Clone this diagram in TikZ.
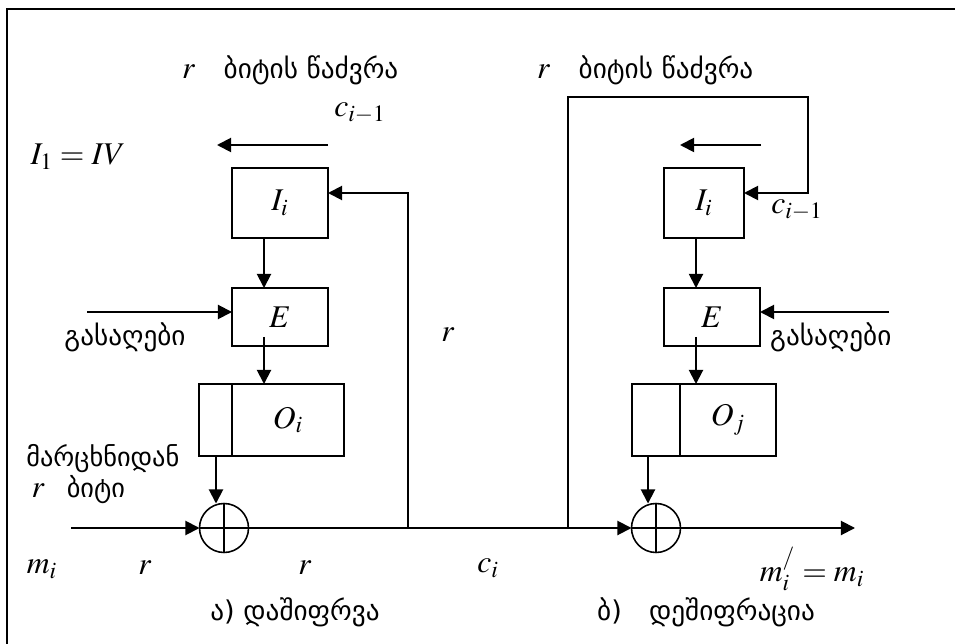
\documentclass[tikz,border=0pt]{standalone}
\usepackage{mathptmx}
\usepackage{fontspec}
\setmainfont{Liberation Serif}
\newfontfamily\geo{DejaVu Sans}
\usetikzlibrary{arrows.meta,positioning}

\begin{document}
\begin{tikzpicture}[
  x=0.02cm, y=-0.02cm,
  font=\fontsize{18}{21}\selectfont,
  blk/.style={draw, line width=0.9pt, outer sep=0pt, inner sep=0pt},
  xor/.style={draw, circle, line width=0.9pt, minimum size=0.98cm, inner sep=0pt, outer sep=0pt,
    path picture={\draw[line width=0.9pt]
      (path picture bounding box.north) -- (path picture bounding box.south)
      (path picture bounding box.west) -- (path picture bounding box.east);}},
  arr/.style={line width=1.1pt, -{Triangle[length=8pt,width=8pt]}},
  geotxt/.style={font=\geo\fontsize{15.5}{19}\selectfont}
]
\useasboundingbox (0,0) rectangle (955,644);

% frame
\draw[line width=1.6pt] (7,644) -- (7,9) -- (955,9);

% encryption (left)
\node[blk, minimum width=1.92cm, minimum height=1.4cm] (Il) at (280,203) {$I_i$};
\node[blk, minimum width=1.92cm, minimum height=1.16cm] (El) at (280,317) {$E$};
\node[blk, minimum width=0.66cm, minimum height=1.44cm] (Osl) at (215.5,420) {};
\node[blk, right=0pt of Osl, minimum width=2.24cm, minimum height=1.44cm] (Obl) {$O_i$};
\node[xor] (xorl) at (224,528) {};

% decryption (right)
\node[blk, minimum width=1.6cm, minimum height=1.4cm] (Ir) at (704,203) {$I_i$};
\node[blk, minimum width=1.92cm, minimum height=1.16cm] (Er) at (712,317) {$E$};
\node[blk, minimum width=0.96cm, minimum height=1.44cm] (Osr) at (656,420) {};
\node[blk, right=0pt of Osr, minimum width=1.92cm, minimum height=1.44cm] (Obr) {$O_j$};
\node[xor] (xorr) at (656,528) {};

% helper points
\coordinate (al) at (264,0);
\coordinate (ar) at (696,0);
\coordinate (eol) at (264,337);
\coordinate (eor) at (696,337);
\coordinate (kl) at (87,312);
\coordinate (kr) at (889,312);
\coordinate (mi) at (71,528);
\coordinate (jl) at (408,528);
\coordinate (jr) at (568,528);
\coordinate (tr) at (808,97);
\coordinate (out) at (855,528);
\coordinate (shl) at (328,145);
\coordinate (shle) at (217,145);
\coordinate (shr) at (761,145);
\coordinate (shre) at (680,145);
\coordinate (pl) at (216,0);
\coordinate (pr) at (648,0);

% connectors left
\draw[arr] (al |- Il.south) -- (al |- El.north);
\draw[arr] (eol) -- (eol |- Obl.north);
\draw[arr] (kl) -- (kl -| El.west);
\draw[arr] (pl |- Osl.south) -- (pl |- xorl.north);
\draw[arr] (mi) -- (xorl.west);
\draw[arr] (jl) |- ([yshift=0.2cm]Il.east);
\draw[arr] (shl) -- (shle);

% connectors right
\draw[arr] (ar |- Ir.south) -- (ar |- Er.north);
\draw[arr] (eor) -- (eor |- Obr.north);
\draw[arr] (kr) -- (kr -| Er.east);
\draw[arr] (pr |- Osr.south) -- (pr |- xorr.north);
\draw[arr] (xorl.east) -- (xorr.west);
\draw[arr] (xorr.east) -- (out);
\draw[arr] (jr) |- (tr) |- ([yshift=0.2cm]Ir.east);
\draw[arr] (shr) -- (shre);

% labels
\node[anchor=west] (shtl) at (176,70) {$r$\hspace{0.9em}{\geo\fontsize{15.5}{19}\selectfont ბიტის წაძვრა}};
\node[anchor=west] (shtr) at (531,70) {$r$\hspace{0.9em}{\geo\fontsize{15.5}{19}\selectfont ბიტის წაძვრა}};
\node (cl) at (360,113) {$c_{i-1}$};
\node (cr) at (797,210) {$c_{i-1}$};
\node (iv) at (78,157) {$I_1=IV$};
\node[geotxt] (keyl) at (125,337) {გასაღები};
\node[geotxt, anchor=west] (keyr) at (764,337) {გასაღები};
\node (rmid) at (448,335) {$r$};
\node[align=left, anchor=west, inner sep=0pt] (left) at (26,474)
  {{\geo\fontsize{15}{19}\selectfont მარცხნიდან}\\[-3pt] \,$r$\hspace{0.7em}{\geo\fontsize{15}{19}\selectfont ბიტი}};
\node (mil) at (42,569) {$m_i$};
\node (r1) at (145,568) {$r$};
\node (r2) at (305,568) {$r$};
\node (ci) at (488,568) {$c_i$};
\node (mo) at (812,569) {$m_i^{/}=m_i$};
\node[geotxt] (capl) at (295,612) {ა) დაშიფრვა};
\node[geotxt] (capr) at (706,612) {ბ)\hspace{1em}დეშიფრაცია};

\end{tikzpicture}
\end{document}
